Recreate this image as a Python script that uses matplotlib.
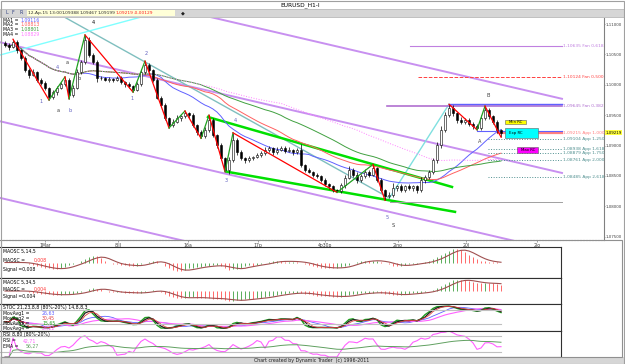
import numpy as np
import pandas as pd
import matplotlib
matplotlib.use('Agg')
import matplotlib.pyplot as plt
from matplotlib.patches import Rectangle

W, H = 625, 364

# hourly closes, in pips above 1.08000
close_pips = [265, 262, 270, 257, 244, 224, 216, 221, 208, 203,
              195, 180, 188, 195, 201, 208, 183, 195, 221, 237,
              274, 249, 237, 211, 211, 208, 210, 208, 211, 205,
              201, 198, 191, 201, 221, 233, 224, 208, 178, 167,
              145, 134, 139, 145, 148, 153, 150, 134, 122, 116,
              126, 142, 117, 101, 80, 60, 76, 109, 89, 80,
              76, 80, 81, 84, 88, 93, 96, 89, 93, 96,
              91, 93, 89, 93, 68, 60, 57, 52, 50, 43,
              37, 33, 27, 25, 35, 47, 60, 52, 43, 50,
              57, 52, 63, 43, 27, 17, 19, 30, 33, 27,
              33, 30, 33, 27, 43, 48, 57, 76, 101, 126,
              150, 162, 153, 142, 139, 142, 136, 132, 129, 145,
              158, 148, 139, 126, 121]
first_open_pips = 268
wick_up = [4, 3, 5, 3, 2, 4, 3, 5, 2, 3,
           3, 2, 4, 3, 4, 5, 3, 4, 5, 4,
           8, 5, 4, 3, 4, 2, 3, 2, 4, 3,
           2, 3, 2, 4, 5, 6, 3, 2, 4, 3,
           3, 2, 4, 5, 3, 4, 2, 3, 2, 3,
           4, 8, 3, 2, 3, 2, 6, 12, 4, 3,
           2, 3, 2, 4, 3, 5, 3, 2, 4, 3,
           3, 4, 2, 3, 9, 2, 3, 2, 3, 2,
           3, 2, 3, 2, 4, 5, 6, 3, 4, 3,
           4, 3, 6, 2, 3, 2, 4, 8, 3, 4,
           3, 4, 2, 3, 5, 4, 3, 4, 5, 6,
           5, 6, 4, 3, 5, 4, 3, 2, 3, 5,
           7, 4, 3, 3, 2]
wick_dn = [3, 4, 2, 4, 3, 3, 4, 2, 3, 4,
           3, 5, 3, 4, 2, 3, 6, 3, 2, 3,
           3, 4, 3, 6, 3, 2, 3, 4, 2, 3,
           4, 3, 3, 2, 3, 4, 3, 3, 2, 4,
           3, 5, 3, 2, 4, 3, 4, 3, 5, 4,
           3, 4, 3, 5, 4, 3, 6, 3, 4, 3,
           4, 3, 4, 2, 3, 4, 3, 4, 3, 2,
           3, 2, 4, 3, 3, 4, 2, 3, 4, 3,
           3, 4, 3, 2, 3, 4, 2, 3, 4, 3,
           3, 4, 2, 3, 4, 7, 4, 3, 4, 3,
           4, 3, 4, 5, 3, 4, 3, 3, 4, 5,
           4, 3, 4, 5, 3, 4, 3, 4, 3, 3,
           3, 4, 3, 5, 7]

# zigzag pivots (bar, pips) and colour of the leg ending there
zz_bar = [2, 11, 15, 16, 20, 32, 35, 41, 45, 49, 51, 55, 57, 83, 92, 95, 111, 118, 120, 124]
zz_pips = [275, 175, 213, 177, 282, 188, 239, 129, 157, 112, 150, 57, 121, 23, 69, 10, 168, 126, 165, 114]
zz_leg = ['', 'red', 'g', 'red', 'g', 'red', 'g', 'red', 'g', 'red', 'g', 'red', 'g', 'red', 'g',
          'red', '', 'red', 'g', 'red']

# parallel channel (purple), endpoints at bar -1.25 and 139.25
chan_p0 = [392, 270, 140, 14]
chan_p1 = [177, 55, -75, -202]
# green wedge
wedge_bar = [[50.75, 111.75], [55.5, 112.5]]
wedge_pips = [[147, 32], [57, -9]]
# teal / cyan trend lines
trend_bar = [[12.5, 95.75], [95.75, 111], [-1.25, 33.75]]
trend_pips = [[320, 15], [10, 168], [249, 311]]
trend_col = ['#7fbfbf', '#80e0e0', '#80ffff']

# projection levels: price, start bar, colour, style, label
lvl_price = [1.10635, 1.10124, 1.09645, 1.09684, 1.09215, 1.09240, 1.09104, 1.08938, 1.08879, 1.08761, 1.08485, 1.08070]
lvl_start = [101.25, 103.25, 95.5, 111, 123.25, 118, 120.75, 120.75, 120.75, 120.75, 120.75, 96.25]
lvl_col = ['#c080e0', '#ff4040', '#b070d0', '#6060ff', '#ff8080', '#6060ff', '#4f8f8f', '#4f8f8f',
           '#4f8f8f', '#4f8f8f', '#4f8f8f', '#a0a0a0']
lvl_ls = ['-', '--', '-', '-', '-', '-', ':', ':', ':', ':', ':', '-']
lvl_lw = [0.8, 0.7, 1.2, 1.0, 1.6, 0.8, 0.7, 0.7, 0.7, 0.7, 0.7, 0.7]
lvl_text = ['1,10635 Fan 0,618', '1,10124 Fan 0,500', '1,09645 Fan 0,382', '', '1,09215 App 1,000', '',
            '1,09104 App 1,250', '1,08938 App 1,618', '1,08879 App 1,750', '1,08761 App 2,000',
            '1,08485 App 2,618', '']

# time boxes
box_bar = [(125, 130.25), (125, 133.25), (128, 133.25)]
box_price = [(1.09355, 1.0942), (1.09125, 1.0929), (1.08878, 1.08977)]
box_face = ['#ffff00', '#00ffff', '#ff00ff']
box_text = ['Min RC', 'Exp RC', 'Max RC']

wave_lbl = ['4', '1', 'a', 'b', '4', 'a', 'b', '1', '2', '3', '4', '5', 'S', 'B', 'A']
wave_bar = [22, 9, 13.25, 16.25, 13, 15.5, 18.5, 31.75, 35.25, 55.25, 57.5, 95.5, 97, 120.75, 118.75]
wave_pips = [302, 172, 158, 158, 229, 237, 211, 178, 252, 43, 142, -19, -31, 183, 107]
wave_col = ['black', '#6060c0', '#404040', '#6060c0', '#6060c0', '#404040', '#404040', '#6060c0',
            '#6060c0', '#6060c0', '#6060c0', '#6060c0', '#404040', '#404040', '#404040']

date_bar = [10, 28.25, 45.75, 63.25, 80, 98.25, 115.25, 133]
date_lbl = ['1Mar', '8Ill', '16a', '17p', '4p30p', '2lno', '20l', '2lo']

ma_names = ['MA1', 'MA2', 'MA3', 'MA4']
ma_vals = ['1,09116', '1,08813', '1,08801', '1,08829']
ma_len = [20, 35, 50, 70]
ma_col = ['#6060ff', '#ff6060', '#40a040', '#ff80ff']
ma_ls = ['-', '-', '-', ':']


def px(p):
    return 1.08 + np.asarray(p, dtype=float) / 10000


close = px(close_pips)
opn = np.r_[px(first_open_pips), close[:-1]]
high = np.maximum(opn, close) + np.array(wick_up) / 10000
low = np.minimum(opn, close) - np.array(wick_dn) / 10000
n = len(close)
bars = np.arange(n)

fig = plt.figure(figsize=(6.25, 3.64), dpi=100)


def fy(py):
    return 1 - py / H


# ---- main price panel
ax = fig.add_axes([0, fy(240), 604 / W, 222 / H])
ax.set_xlim(-1.25, 149.75)
ax.set_ylim(1.07447, 1.11099)

for k in range(4):
    ax.plot([-1.25, 139.25], px([chan_p0[k], chan_p1[k]]), color='#c890f0', lw=1.4, zorder=1)
for k in range(3):
    ax.plot(trend_bar[k], px(trend_pips[k]), color=trend_col[k], lw=1.0, zorder=1)
for k in range(2):
    ax.plot(wedge_bar[k], px(wedge_pips[k]), color='#00e000', lw=1.8, zorder=2)

c = pd.Series(close)
for k in range(4):
    ax.plot(bars, c.rolling(ma_len[k], min_periods=1).mean(), color=ma_col[k], lw=0.7,
            ls=ma_ls[k], zorder=2)

for k in range(len(lvl_price)):
    ax.plot([lvl_start[k], 139.25], [lvl_price[k]] * 2, color=lvl_col[k], ls=lvl_ls[k],
            lw=lvl_lw[k], zorder=2)
    if lvl_text[k]:
        ax.text(139.5, lvl_price[k], lvl_text[k], color=lvl_col[k], fontsize=3.2,
                va='center', ha='left', clip_on=False)

for k in range(len(box_text)):
    x0, x1 = box_bar[k]
    y0, y1 = box_price[k]
    ax.add_patch(Rectangle((x0, y0), x1 - x0, y1 - y0, facecolor=box_face[k],
                           edgecolor='#606060', lw=0.4, zorder=3))
    ax.text(x0 + 1, (y0 + y1) / 2, box_text[k], fontsize=2.8, va='center', zorder=4)

# candles
ax.vlines(bars, low, high, color='black', lw=0.5, zorder=4)
up = close >= opn
body = np.maximum(np.abs(close - opn), 0.00004)
ax.bar(bars, body, bottom=np.minimum(opn, close), width=0.65,
       color=np.where(up, 'white', 'black'), edgecolor='black', lw=0.4, zorder=5)

# zigzag
for k in range(1, len(zz_bar)):
    if zz_leg[k]:
        ax.plot(zz_bar[k - 1:k + 1], px(zz_pips[k - 1:k + 1]),
                color='#ff0000' if zz_leg[k] == 'red' else '#20a020', lw=0.9, zorder=6)

for k in range(len(wave_lbl)):
    ax.text(wave_bar[k], px(wave_pips[k]), wave_lbl[k], color=wave_col[k], fontsize=3.6,
            ha='center', va='center', zorder=7)

ax.yaxis.tick_right()
yt = np.arange(1.075, 1.1101, 0.005)
ax.set_yticks(yt)
ax.set_yticklabels([('%.5f' % v).replace('.', ',') for v in yt], fontsize=2.9, color='#404040')
ax.set_xticks(date_bar)
ax.set_xticklabels(date_lbl, fontsize=3.3, color='#404040')
ax.tick_params(length=1.5, width=0.5, color='#808080', pad=0.8)
ax.tick_params(axis='y', length=1, pad=0.4)
for s in ['left', 'top']:
    ax.spines[s].set_visible(False)
ax.spines['right'].set_color('#808080')
ax.spines['bottom'].set_color('#909090')
ax.spines['bottom'].set_linestyle(':')
ax.text(150.1, close[-1], '1,09219', fontsize=2.9, va='center', ha='left', clip_on=False,
        bbox=dict(boxstyle='square,pad=0.1', fc='#ffff40', ec='none'))

for k in range(4):
    yy = 20 + k * 4.7
    fig.text(3 / W, fy(yy), ma_names[k] + ' =', fontsize=3.3, va='center')
    fig.text(20 / W, fy(yy), ma_vals[k], fontsize=3.3, va='center', color=ma_col[k])

# ---- indicator panels
h_s = pd.Series(high)
l_s = pd.Series(low)
osc1 = c.rolling(5, min_periods=1).mean() - c.rolling(14, min_periods=1).mean()
osc2 = c.rolling(5, min_periods=1).mean() - c.rolling(34, min_periods=1).mean()
hh = h_s.rolling(21, min_periods=1).max()
ll = l_s.rolling(21, min_periods=1).min()
rawk = 100 * (c - ll) / (hh - ll)
delta = c.diff().fillna(0)
gain = delta.clip(lower=0).rolling(8, min_periods=1).mean()
loss = (-delta).clip(lower=0).rolling(8, min_periods=1).mean()
rsi = 100 * gain / (gain + loss + 1e-12)
rsi_ema = rsi.ewm(span=34).mean()

panels = [(247, 278), (278, 304), (304, 331), (331, 357)]
axs = []
for top, bot in panels:
    a = fig.add_axes([0, fy(bot), 561 / W, (bot - top) / H])
    a.set_xlim(-1.25, 139)
    a.set_xticks([])
    a.set_yticks([])
    a.spines['left'].set_visible(False)
    for s in ['top', 'bottom', 'right']:
        a.spines[s].set_color('#303030')
        a.spines[s].set_linewidth(0.8)
    axs.append(a)

for a, osc, title, val in [(axs[0], osc1, 'MAOSC 5,14,5', '0,008'),
                           (axs[1], osc2, 'MAOSC 5,34,5', '0,004')]:
    sig = osc.rolling(5, min_periods=1).mean()
    rising = (osc.diff().fillna(0) >= 0).values
    a.vlines(bars, 0, osc, colors=np.where(rising, '#40a040', '#ff5050'), lw=0.6)
    a.plot(bars, sig, color='#a05050', lw=0.8)
    lim = max(osc.abs().max(), sig.abs().max()) * 1.15
    a.set_ylim(-lim, lim)
    a.text(0.005, 0.93, title, transform=a.transAxes, fontsize=3.3, va='top')
    a.text(0.005, 0.65, 'MAOSC =', transform=a.transAxes, fontsize=3.3, va='top')
    a.text(0.06, 0.65, val, transform=a.transAxes, fontsize=3.3, va='top', color='#ff3030')
    a.text(0.005, 0.37, 'Signal =' + val, transform=a.transAxes, fontsize=3.3, va='top')

st = axs[2]
st_lines = [(rawk.rolling(8, min_periods=1).mean(), '#6060ff', 0.6),
            (rawk.rolling(14, min_periods=1).mean(), '#ff60ff', 0.8),
            (rawk.rolling(2, min_periods=1).mean(), '#20a020', 1.0),
            (rawk.rolling(3, min_periods=1).mean(), '#202020', 0.9),
            (rawk.rolling(4, min_periods=1).mean(), '#e04040', 0.6)]
for sr, col, lw in st_lines:
    st.plot(bars, sr, color=col, lw=lw)
for lv in (80, 20):
    st.plot([-1.25, 124], [lv, lv], color='#c0c0c0', lw=0.8)
st.set_ylim(-10, 106)
st.text(0.005, 0.95, 'STOC 21,23,8,8 (80%-20%) 14,8,8,3', transform=st.transAxes, fontsize=3.3, va='top')
st_names = ['MovAvg1 =', 'MovAvg2 =', 'MovAvg3 =', 'MovAvg4 =']
st_vals = ['26,63', '30,45', '15,65', '24,22']
st_vcol = ['#6060ff', '#e04040', '#20a020', '#ff60ff']
for k in range(4):
    st.text(0.005, 0.75 - k * 0.19, st_names[k], transform=st.transAxes, fontsize=3.3, va='top')
    st.text(0.075, 0.75 - k * 0.19, st_vals[k], transform=st.transAxes, fontsize=3.3, va='top',
            color=st_vcol[k])

ra = axs[3]
ra.plot(bars, rsi, color='#ff60ff', lw=0.8)
ra.plot(bars, rsi_ema, color='#60a060', lw=0.7)
for lv in (80, 20):
    ra.plot([-1.25, 124], [lv, lv], color='#c0c0c0', lw=0.8)
ra.set_ylim(0, 100)
ra.text(0.005, 0.95, 'RSI 8,80 (80%-20%)', transform=ra.transAxes, fontsize=3.3, va='top')
ra.text(0.005, 0.72, 'RSI =', transform=ra.transAxes, fontsize=3.3, va='top')
ra.text(0.04, 0.72, '42,71', transform=ra.transAxes, fontsize=3.3, va='top', color='#ff60ff')
ra.text(0.005, 0.49, 'EMA =', transform=ra.transAxes, fontsize=3.3, va='top')
ra.text(0.045, 0.49, '56,27', transform=ra.transAxes, fontsize=3.3, va='top', color='#60a060')

# ---- frame, title bar, status bar, footer
fig.patches.append(Rectangle((0, fy(17)), 1, 8 / H, transform=fig.transFigure,
                             facecolor='#d6d6d6', edgecolor='#b0b0b0', lw=0.5))
fig.patches.append(Rectangle((27 / W, fy(16)), 148 / W, 6 / H, transform=fig.transFigure,
                             facecolor='#ffffd8', edgecolor='none'))
fig.patches.append(Rectangle((0, fy(364)), 1, 7 / H, transform=fig.transFigure,
                             facecolor='#d6d6d6', edgecolor='none'))
fig.patches.append(Rectangle((0.5 / W, fy(357)), 621.5 / W, 117 / H, transform=fig.transFigure,
                             facecolor='none', edgecolor='#909090', lw=0.8))
fig.patches.append(Rectangle((0.5 / W, 0.5 / H), 623.5 / W, 362.5 / H, transform=fig.transFigure,
                             facecolor='none', edgecolor='#a0a0a0', lw=0.8))

fig.text(300 / W, fy(5), 'EURUSD_H1-I', fontsize=4.2, ha='center', va='center')
for k, ch in enumerate(['L', 'F', 'R']):
    fig.text((5 + k * 7) / W, fy(13), ch, fontsize=3.4, va='center', color='#304080')
status_x = [28, 62, 80, 98, 116, 134]
status_txt = ['12-Ap-15 13:00', '1,09388', '1,09467', '1,09199', '1,09219', '-0,00129']
status_col = ['#303030', '#303030', '#303030', '#303030', '#ff2020', '#ff2020']
for k in range(len(status_txt)):
    fig.text(status_x[k] / W, fy(13), status_txt[k], fontsize=3.2, va='center', color=status_col[k])
fig.text(181 / W, fy(13), '\u25c6', fontsize=3.6, va='center', color='#202020')
fig.text(312 / W, fy(360.5), 'Chart created by Dynamic Trader  (c) 1996-2011', fontsize=3.4,
         ha='center', va='center', color='#202020')

fig.savefig('out.png', dpi=100)
